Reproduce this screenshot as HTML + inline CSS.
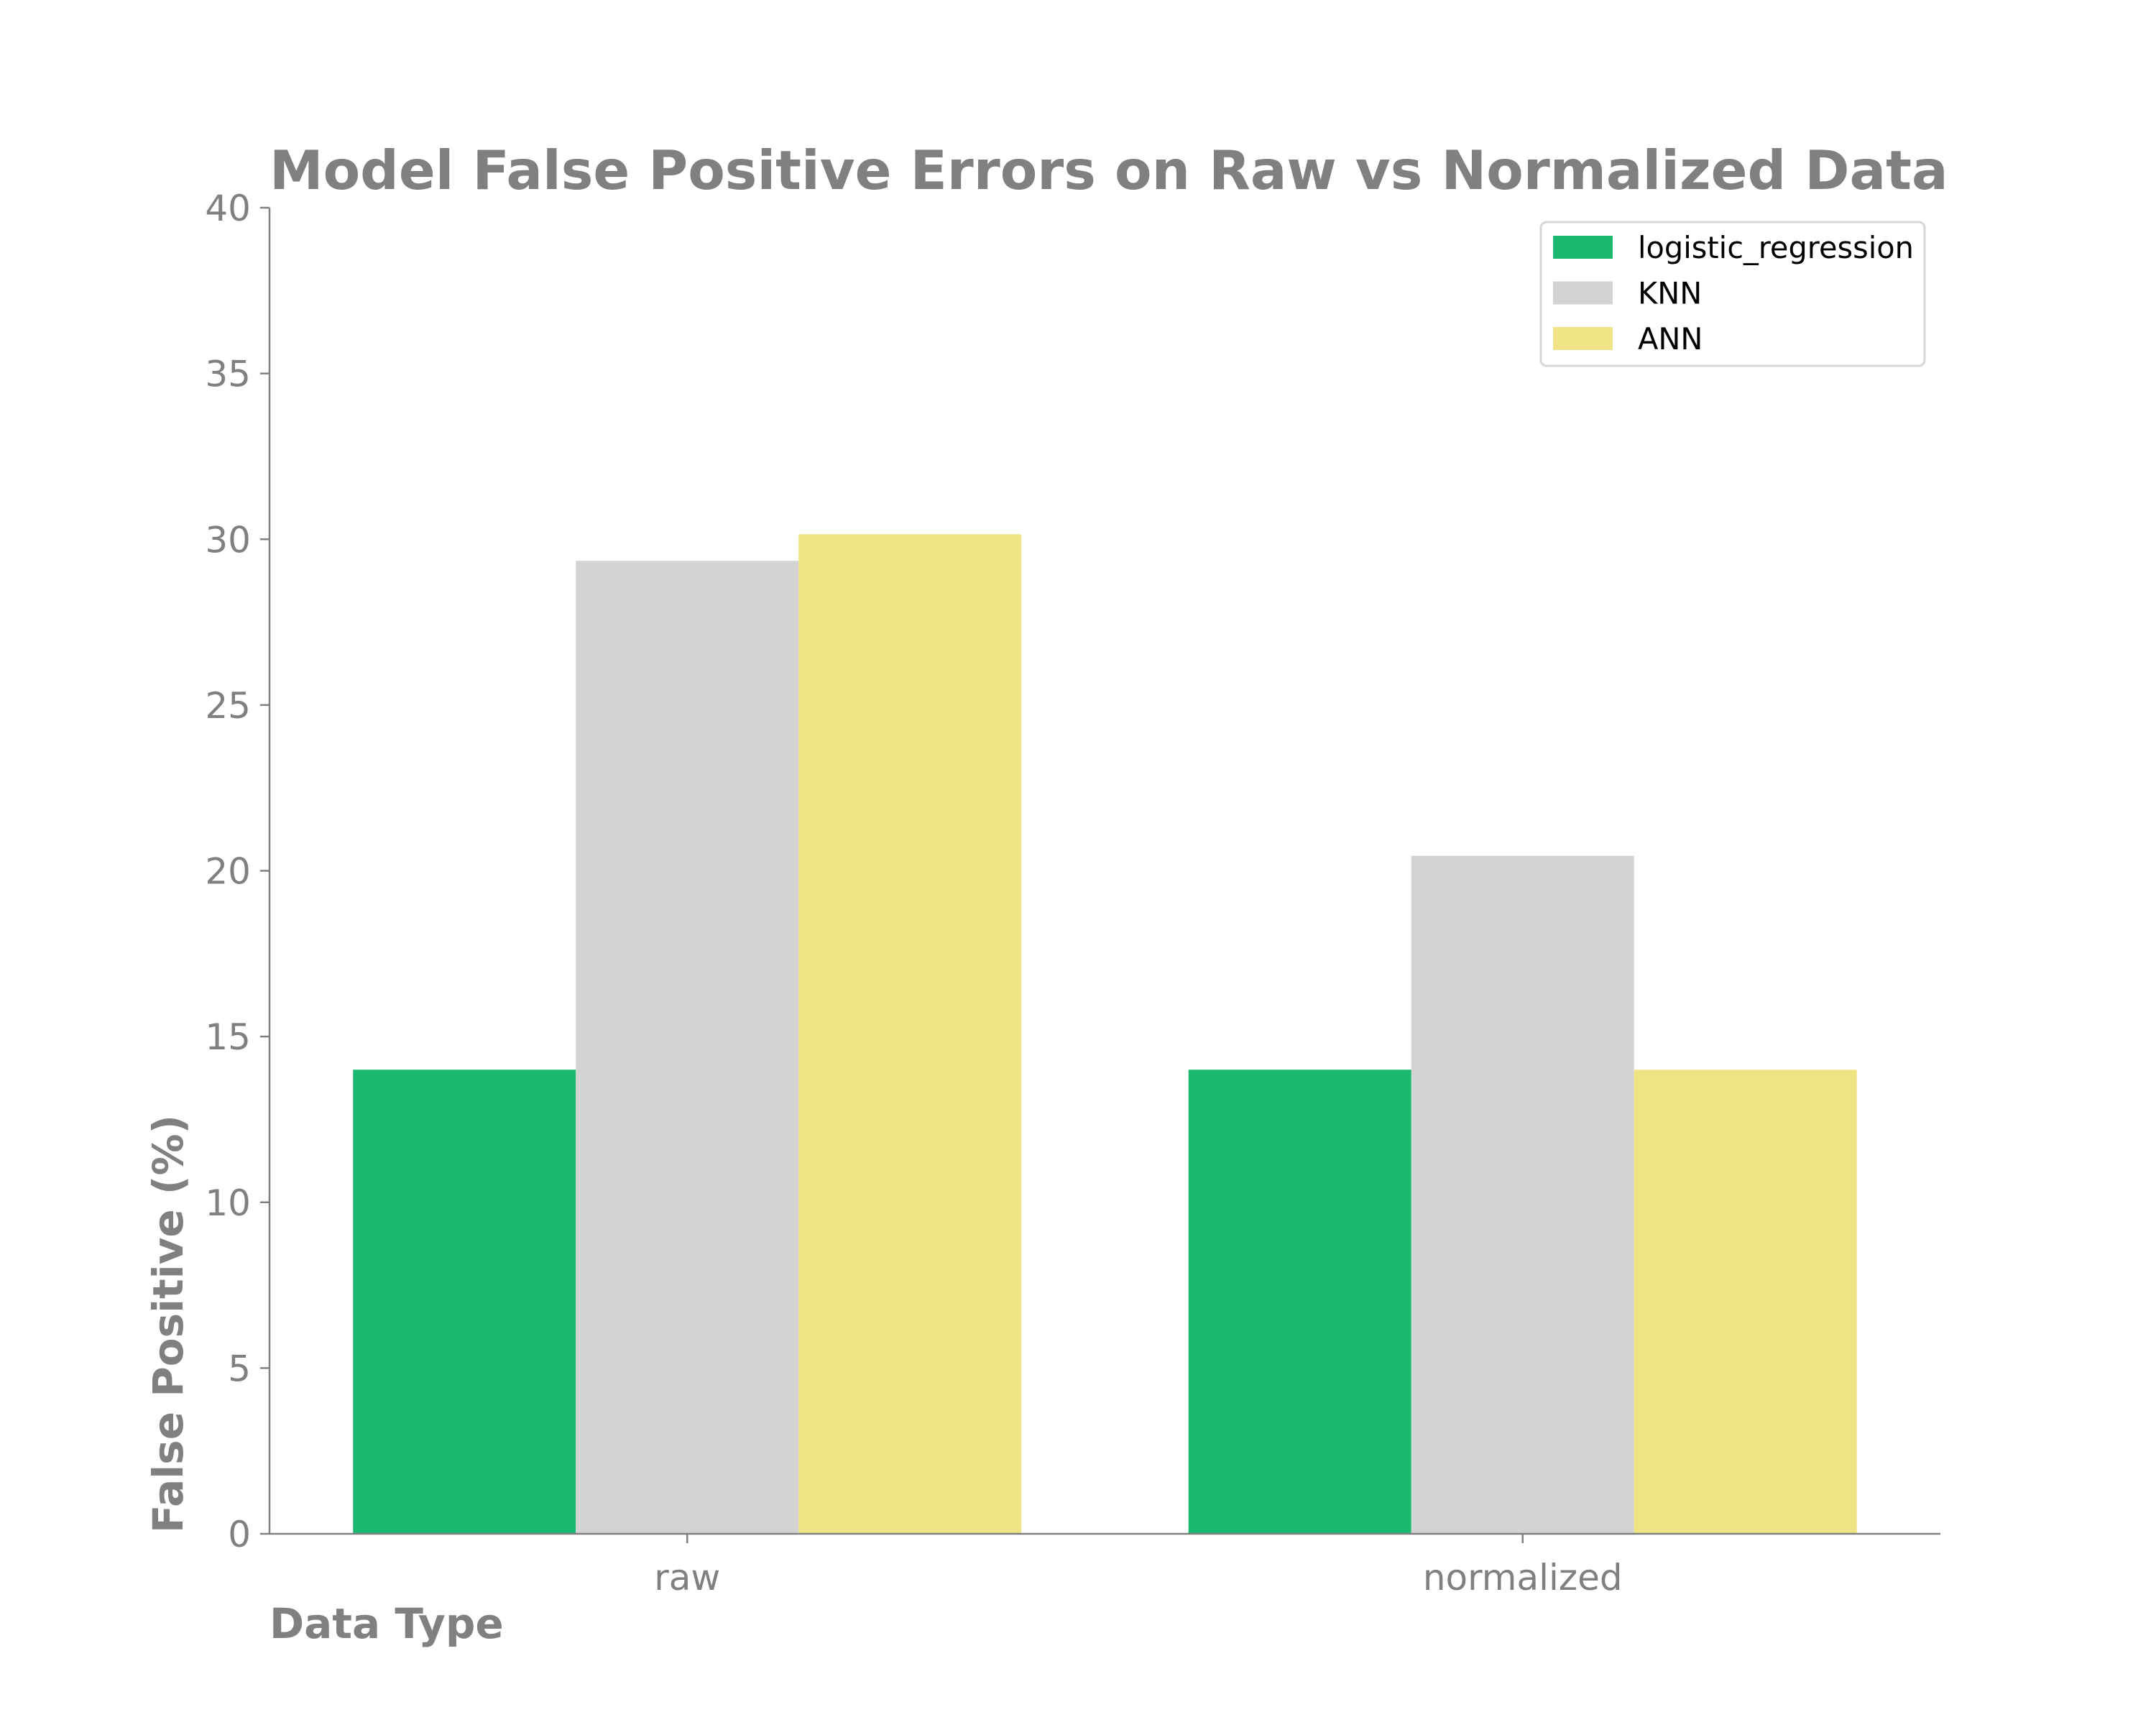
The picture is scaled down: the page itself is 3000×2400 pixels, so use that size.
<!DOCTYPE html>
<html><head><meta charset="utf-8"><style>
html,body{margin:0;padding:0;background:#fff;}
svg{display:block;font-family:"DejaVu Sans","Liberation Sans",sans-serif;}
</style></head><body>
<svg id="chart" width="3000" height="2400" viewBox="0 0 3000 2400" xmlns="http://www.w3.org/2000/svg">
<rect width="3000" height="2400" fill="#fff"/>
<text x="375" y="263" font-size="75" font-weight="bold" fill="#808080">Model False Positive Errors on Raw vs Normalized Data</text>
<g id="bars"></g>
<g id="axes"></g>
<text transform="translate(254,1842) rotate(-90)" text-anchor="middle" font-size="58" font-weight="bold" fill="#808080">False Positive (%)</text>
<text x="375" y="2279" font-size="58" font-weight="bold" fill="#808080">Data Type</text>
<g id="legend"></g>
</svg>
<script>
const categories = ["raw", "normalized"];
const seriesNames = ["logistic_regression", "KNN", "ANN"];
const logisticValues = [14.0, 14.0];
const knnValues = [29.35, 20.45];
const annValues = [30.15, 14.0];
const yTicks = [0, 5, 10, 15, 20, 25, 30, 35, 40];

const colors = ["#1bb86f", "#d3d3d3", "#efe386"];
const series = [logisticValues, knnValues, annValues];
const NS = "http://www.w3.org/2000/svg";
const L = 375, R = 2700, T = 289, B = 2134;
function xS(v){ return L + (v + 0.5) / 2 * (R - L); }
function yS(v){ return B - v / 40 * (B - T); }
function mk(tag, attrs, parent){ const e = document.createElementNS(NS, tag); for (const k in attrs) e.setAttribute(k, attrs[k]); parent.appendChild(e); return e; }
const bars = document.getElementById("bars");
const axes = document.getElementById("axes");
const bw = 0.8 / 3;
series.forEach((vals, s) => {
  vals.forEach((v, i) => {
    const x0 = xS(i - 0.4 + s * bw), x1 = xS(i - 0.4 + (s + 1) * bw);
    const r = mk("rect", {x: x0, y: yS(v), width: x1 - x0, height: yS(0) - yS(v), fill: colors[s]}, bars);
    
    
  });
});
const ya = mk("line", {x1: L, y1: T, x2: L, y2: B + 1, stroke: "#808080", "stroke-width": 2.5}, axes);


const xa = mk("line", {x1: L, y1: B, x2: R, y2: B, stroke: "#808080", "stroke-width": 2.5}, axes);


yTicks.forEach(t => {
  mk("line", {x1: L - 13, y1: yS(t), x2: L, y2: yS(t), stroke: "#808080", "stroke-width": 2.5}, axes);
  const tx = mk("text", {x: L - 26, y: yS(t) + 18, "text-anchor": "end", "font-size": 50, fill: "#808080"}, axes);
  tx.textContent = t;
  
  
});
categories.forEach((c, i) => {
  mk("line", {x1: xS(i), y1: B, x2: xS(i), y2: B + 13, stroke: "#808080", "stroke-width": 2.5}, axes);
  const tx = mk("text", {x: xS(i), y: B + 78, "text-anchor": "middle", "font-size": 50, fill: "#808080"}, axes);
  tx.textContent = c;
  
  
});
const lg = document.getElementById("legend");
mk("rect", {x: 2144, y: 309, width: 534, height: 200, rx: 8, fill: "#fff", stroke: "#d6d6d6", "stroke-width": 3}, lg);
seriesNames.forEach((n, s) => {
  const cy = 344 + s * 63.5;
  const p = mk("rect", {x: 2161, y: cy - 16, width: 83, height: 32, fill: colors[s]}, lg);
  
  
  const tx = mk("text", {x: 2279, y: cy + 15, "font-size": 41.5, fill: "#000"}, lg);
  tx.textContent = n;
  
  
});
</script>
</body></html>
